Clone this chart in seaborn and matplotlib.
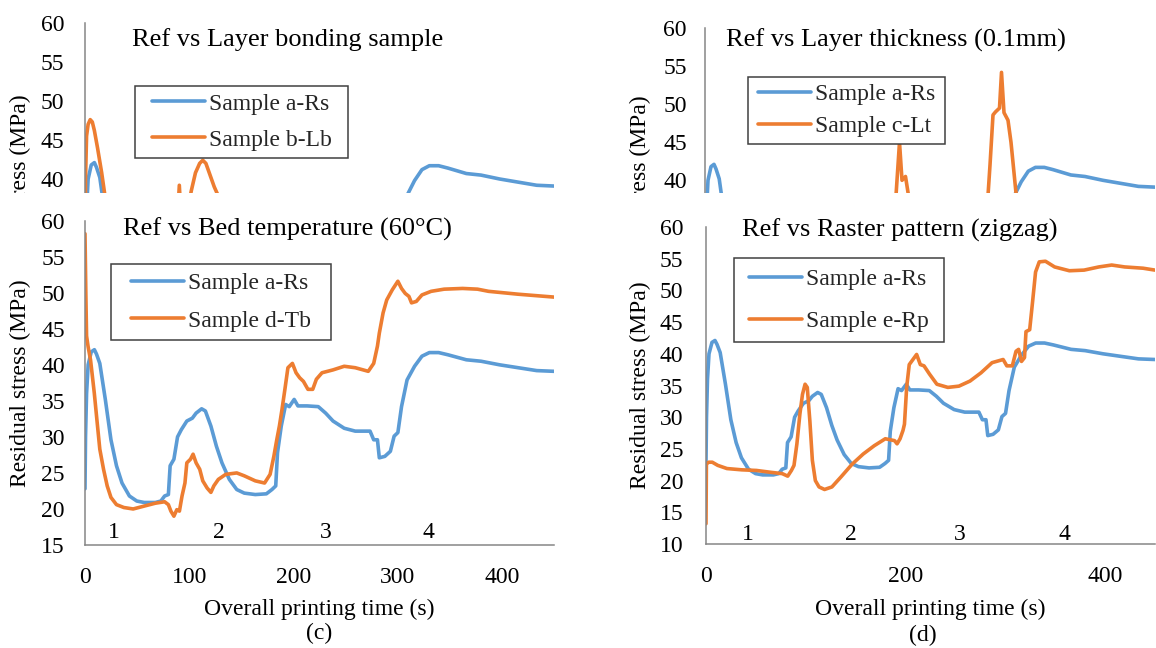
import numpy as np
import pandas as pd
import matplotlib
matplotlib.use("Agg")
import matplotlib.pyplot as plt
import seaborn as sns
from matplotlib.path import Path
from matplotlib.patches import Rectangle
from matplotlib.transforms import Bbox, TransformedBbox

# ---------------- data ----------------
# Sample a-Rs (reference sample, shared by all four panels)
rs_time = [0, 0.5, 1.5, 3, 6, 9, 11, 14.2, 19.5, 24.9, 30.2, 35.5, 42.6, 49.7, 56.8,
           67.5, 72.8, 76.4, 80, 81.7, 85.3, 88.8, 92.4, 97.7, 103, 106.6, 111.9,
           115.5, 120.8, 126.1, 131.4, 138.5, 145.6, 152.8, 163.4, 174, 179.4, 183,
           184.7, 188.3, 192.5, 196, 200.7, 204.3, 213.1, 223.8, 230.9, 238, 248.7,
           259.3, 273.5, 277, 280.6, 282.4, 287.7, 293, 296.6, 300.2, 303.7, 309,
           316.2, 323.3, 330.4, 339.3, 348.1, 365.9, 380, 397.9, 415.6, 433.4, 450]
rs_stress = [22.8, 30, 36, 40, 41.8, 42.1, 41.5, 40.2, 35.2, 29.6, 26, 23.6, 21.8, 21.1, 20.9,
             20.9, 21.1, 21.8, 22, 26, 26.9, 30, 31, 32.2, 32.6, 33.3, 33.9,
             33.6, 31.5, 28.7, 26.4, 24.1, 22.7, 22.2, 22, 22.1, 22.7, 23.2,
             27.8, 31.5, 34.5, 34.2, 35.2, 34.3, 34.3, 34.2, 33.3, 32.2, 31.2,
             30.8, 30.8, 29.6, 29.6, 27.1, 27.3, 28, 30.1, 30.6, 34.2, 37.9,
             39.8, 41.2, 41.7, 41.7, 41.4, 40.7, 40.5, 40, 39.6, 39.2, 39.1]

# Sample b-Lb (layer bonding) - only the top of this panel is visible
lb_time = [0, 0.5, 1.5, 3, 5, 7, 9, 12, 16, 19, 24, 30, 40, 55, 70, 82, 88, 90.5, 93,
           97, 102, 106, 110, 113, 116, 120, 124, 129, 135, 150, 170, 200, 250, 300,
           350, 400, 450]
lb_stress = [25, 40, 45.5, 47, 47.6, 47.3, 46.2, 44, 40.8, 38, 33, 28, 24, 22, 22, 25, 33, 39.2, 33,
             35, 38.5, 40.8, 42, 42.4, 42, 40.5, 39, 37.5, 35, 30, 27, 33, 32, 35,
             36, 35, 34]

# Sample c-Lt (layer thickness 0.1 mm) - only the top of this panel is visible
lt_time = [0, 1, 3, 6, 9, 12, 15, 20, 30, 50, 80, 100, 120, 150, 175, 188, 191, 194.5,
           197, 200.5, 203.5, 207, 215, 240, 270, 282, 285, 288, 290.5, 294.5, 296.5,
           299, 303, 306, 309, 312, 320, 350, 400, 450]
lt_stress = [22, 30, 34, 35, 34, 33, 32, 30, 26, 24, 26, 30, 31, 29, 30, 33, 38, 45,
             40, 40.5, 38, 34, 33, 31, 33, 36, 42, 48.6, 49, 49.5, 54.2,
             48.9, 47.9, 45, 41, 37, 33, 35, 36, 35]

# Sample d-Tb (bed temperature 60 C)
tb_time = [0, 0.8, 1.5, 3, 5.3, 8.9, 11.4, 14.2, 17.8, 21.3, 24.9, 30.2, 37.3, 46.2,
           56.8, 67.5, 76.4, 80, 82.4, 85.3, 88.1, 90.6, 93.1, 95.9, 97.7, 101.2,
           103.7, 106.6, 110.1, 113, 117.2, 120.8, 123.6, 127.9, 135, 145.6, 152.8,
           163.4, 172.3, 177.6, 181.2, 184, 186.5, 189, 191.8, 194.7, 199, 202.5,
           206, 209.6, 213.9, 218.5, 222, 227.4, 238, 248.7, 259.3, 271.8, 277,
           280.6, 282.4, 286, 289.5, 294.8, 300.2, 303.7, 307.3, 310.8, 313.3,
           317.9, 323.3, 332.1, 344.6, 362.3, 376.6, 387.2, 415.6, 450]
tb_stress = [58.2, 50, 44, 42.5, 40.7, 36.1, 32.4, 28.3, 25.5, 23.2, 21.6, 20.6, 20.2, 20,
             20.4, 20.8, 21, 20.6, 19.7, 19, 19.9, 19.7, 21.8, 23.6, 26.4, 26.9,
             27.6, 26.4, 25.5, 23.9, 22.9, 22.3, 23.2, 24.1, 24.8, 25, 24.6,
             23.9, 23.6, 24.8, 27.3, 29.6, 31.5, 33.8, 36.6, 39.6, 40.2, 38.9,
             38.2, 37.7, 36.6, 36.6, 38, 38.9, 39.3, 39.8, 39.6, 39.1, 40.2,
             42.6, 44.4, 47.2, 49, 50.4, 51.6, 50.6, 49.9, 49.5, 48.6,
             48.8, 49.7, 50.2, 50.5, 50.6, 50.5, 50.2, 49.8, 49.4]

# Sample e-Rp (raster pattern zigzag)
rp_time = [0, 0.4, 2.6, 6.3, 11.8, 21, 35.8, 50.6, 65.3, 76.4, 81.9, 85.6, 88.2, 91.1,
           94.1, 96.7, 99.3, 101.5, 104.1, 106.6, 109.6, 113.3, 118.8, 126.2, 135.4,
           146.5, 157.6, 168.6, 179.7, 189, 191.5, 194.5, 197.4, 198.9, 201.1, 203.7,
           207.4, 211.1, 214.8, 218.5, 224, 231.4, 242.4, 253.5, 264.6, 275.6, 286.7,
           297.8, 301.5, 307, 310.7, 313.3, 316.2, 319.2, 320.7, 324.4, 327.3, 330.3,
           334, 340.2, 349.4, 364.2, 378.9, 393.7, 406.6, 419.6, 438, 450]
rp_stress = [13.2, 22.6, 22.9, 22.9, 22.4, 21.9, 21.7, 21.6, 21.3, 21.1, 20.7, 21.6, 22.4, 25.8,
             30.5, 33.6, 35.2, 34.7, 29.4, 23.2, 20, 19, 18.6, 19, 20.6,
             22.6, 24.2, 25.5, 26.6, 26.3, 25.8, 26.6, 27.9, 28.9, 34.7, 38.3,
             39.1, 39.9, 38.3, 38.1, 36.8, 35.2, 34.7, 34.9, 35.7, 37, 38.6,
             39.1, 38.1, 38.1, 40.4, 40.7, 38.8, 39.4, 43.5, 43.8, 48.2, 52.9,
             54.5, 54.6, 53.7, 53.1, 53.2, 53.7, 54, 53.7, 53.5, 53.2]

ref_label = "Sample a-Rs"
titles = ["Ref vs Layer bonding sample", "Ref vs Layer thickness (0.1mm)",
          "Ref vs Bed temperature (60°C)", "Ref vs Raster pattern (zigzag)"]
sample_labels = ["Sample b-Lb", "Sample c-Lt", "Sample d-Tb", "Sample e-Rp"]
sample_times = [lb_time, lt_time, tb_time, rp_time]
sample_values = [lb_stress, lt_stress, tb_stress, rp_stress]
region_labels = ["1", "2", "3", "4"]
region_x_left = [27.8, 128.8, 230.6, 330]
region_x_right = [42.4, 145.4, 254.5, 359]
xlabel = "Overall printing time (s)"
ylabel = "Residual stress (MPa)"
panel_tags = ["(c)", "(d)"]

# ---------------- style ----------------
W, H = 1156, 648
CUT = 193  # pixel row where the lower panels start covering the upper ones
BLUE, ORANGE = "#5B9BD5", "#ED7D31"
AXIS, FRAME = "#868686", "#404040"
LW = 2.6
FS, TFS = 17, 19

sns.set_theme(style="white")
plt.rcParams["font.family"] = ["Liberation Serif", "DejaVu Serif"]

fig = plt.figure(figsize=(W / 100, H / 100), dpi=100)


def rect(l, t, r, b):
    return [l / W, 1 - b / H, (r - l) / W, (b - t) / H]


class AsymBox:
    """Square legend frame with separate horizontal / vertical padding (px)."""
    def __init__(self, px, py):
        self.px, self.py = px, py

    def __call__(self, x0, y0, width, height, mutation_size):
        x0 -= self.px
        y0 -= self.py
        x1 = x0 + width + 2 * self.px
        y1 = y0 + height + 2 * self.py
        return Path([(x0, y0), (x1, y0), (x1, y1), (x0, y1), (x0, y0)], closed=True)


# panel layout in pixels: full box (left, top, right, bottom) of the value range
panels = [
    dict(box=(85, 22.7, 554, 374.4), ylim=(15, 60), xticks=np.arange(0, 401, 100),
         upper=True, ypad=15, title=(132.5, 40), leg=(135.2, 86, 9.6, 0, 0.61), ylab_x=20),
    dict(box=(705, 28.3, 1155, 370.3), ylim=(15, 60), xticks=np.arange(0, 401, 200),
         upper=True, ypad=13, title=(726, 40), leg=(748.3, 76.7, 2.7, 0, 0.445), ylab_x=640.6),
    dict(box=(85, 220.7, 554, 545), ylim=(15, 60), xticks=np.arange(0, 401, 100),
         upper=False, ypad=14.4, title=(123.3, 229.5), leg=(110.7, 264.3, 13, 1.4, 0.67),
         ylab_x=20, regions=(region_x_left, 16.7), tag=(319, 633)),
    dict(box=(706, 227, 1155, 544), ylim=(10, 60), xticks=np.arange(0, 401, 200),
         upper=False, ypad=16.5, title=(741.7, 230), leg=(734.4, 258, 7.6, 3.3, 0.87),
         ylab_x=640.6, regions=(region_x_right, 11.5), tag=(923, 635)),
]

visible_top = TransformedBbox(Bbox([[0, 1 - CUT / H], [1, 1]]), fig.transFigure)

for i, p in enumerate(panels):
    l, t, r, b = p["box"]
    y0, y1 = p["ylim"]
    if p["upper"]:
        # only the part above CUT is visible: shrink box and value range accordingly
        ppu = (b - t) / (y1 - y0)
        y0 = y1 - (CUT - t) / ppu
        full_center = (t + b) / 2
        b = CUT
    ax = fig.add_axes(rect(l, t, r, b), zorder=1 if p["upper"] else 2)
    ax.set_facecolor("none")
    sns.lineplot(x=rs_time, y=rs_stress, ax=ax, color=BLUE, linewidth=LW,
                 estimator=None, sort=False, label=ref_label)
    sns.lineplot(x=sample_times[i], y=sample_values[i], ax=ax, color=ORANGE,
                 linewidth=LW, estimator=None, sort=False, label=sample_labels[i])
    ax.set_xlim(0, 450)
    ax.set_ylim(y0, y1)
    ax.set_yticks(np.arange(p["ylim"][0], 60.1, 5))
    ax.set_ylim(y0, y1)
    for s in ["top", "right"]:
        ax.spines[s].set_visible(False)
    for s in ["left", "bottom"]:
        ax.spines[s].set_color(AXIS)
        ax.spines[s].set_linewidth(1.1)
    ax.tick_params(axis="both", direction="in", length=4, width=1.1, color=AXIS,
                   labelsize=FS, labelcolor="black")
    ax.tick_params(axis="y", pad=p["ypad"])
    ax.grid(False)

    ax.set_ylabel(ylabel, fontsize=FS, color="black")
    ax.yaxis.label.set_va("center")
    if p["upper"]:
        ax.spines["bottom"].set_visible(False)
        ax.tick_params(axis="x", bottom=False, labelbottom=False)
        ax.set_xlabel("")
        ax.yaxis.set_label_coords((p["ylab_x"] - l) / (r - l), (b - full_center) / (b - t))
        ax.yaxis.label.set_clip_on(True)
        ax.yaxis.label.set_clip_box(visible_top)
    else:
        ax.set_xticks(p["xticks"])
        ax.set_xticklabels([f"{v:d}" for v in p["xticks"]])
        ax.tick_params(axis="x", pad=16)
        ax.yaxis.set_label_coords((p["ylab_x"] - l) / (r - l), 0.5)
        ax.set_xlabel(xlabel, fontsize=FS, color="black")
        ax.xaxis.label.set_va("center")
        ax.xaxis.set_label_coords(0.5, (b - 609) / (b - t))

    # in-plot title
    tx, ty = p["title"]
    ax.text((tx - l) / (r - l), (b - ty) / (b - t), titles[i], transform=ax.transAxes,
            ha="left", va="center", fontsize=TFS, color="black")

    # legend with Excel-like square frame
    fl, ft, padx, pady, ls = p["leg"]
    fs_px = FS * 100 / 72
    leg = ax.legend(loc="upper left",
                    bbox_to_anchor=((fl + padx) / W, 1 - (ft + pady) / H),
                    bbox_transform=fig.transFigure, borderaxespad=0,
                    borderpad=0.3, handlelength=53 / fs_px, handletextpad=4 / fs_px,
                    labelspacing=ls, frameon=True, fancybox=False, framealpha=1,
                    edgecolor=FRAME, facecolor="white", fontsize=FS)
    leg.get_frame().set_linewidth(1.1)
    leg.get_frame().set_boxstyle(AsymBox(padx, pady))
    for h in leg.get_lines():
        h.set_linewidth(LW)

    # stage numbers along the bottom
    if "regions" in p:
        xs, yv = p["regions"]
        for lab, xv in zip(region_labels, xs):
            ax.text(xv, yv, lab, ha="center", va="center", fontsize=FS, color="black")
        fig.text(p["tag"][0] / W, 1 - p["tag"][1] / H, panel_tags[i - 2],
                 ha="center", va="center", fontsize=FS, color="black")

# the lower panels overlap the upper ones: keep that area white below them
fig.add_artist(Rectangle((0, 0), 1, 1 - CUT / H, transform=fig.transFigure,
                         facecolor="white", edgecolor="none", zorder=1.5))

fig.savefig("out.png", dpi=100, facecolor="white")
